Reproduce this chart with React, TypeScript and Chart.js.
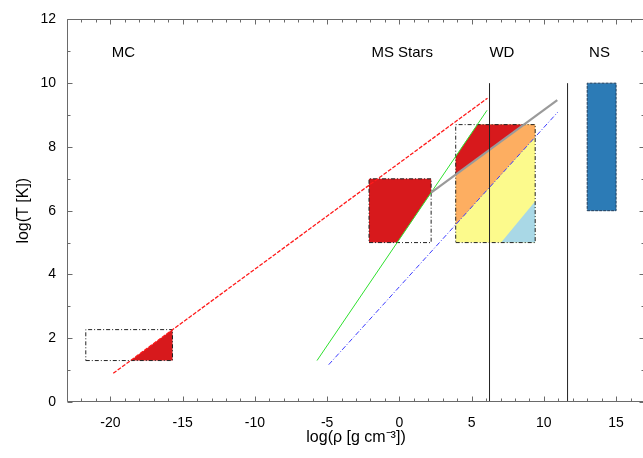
import React, { useEffect, useRef } from "react";
import { Chart, registerables } from "chart.js";

Chart.register(...registerables);

// ---- axes ----
const X_MIN = -23;
const X_MAX = 17;
const Y_MIN = 0;
const Y_MAX = 12;
const X_STEP = 5;
const Y_STEP = 2;
const xTickValues = [-20, -15, -10, -5, 0, 5, 10, 15];
const yTickValues = [0, 2, 4, 6, 8, 10, 12];
const X_TITLE = "log(ρ [g cm⁻³])";
const Y_TITLE = "log(T [K])";

// ---- region labels ----
const regionLabels = ["MC", "MS Stars", "WD", "NS"];
const regionLabelX = [-19.1, 0.2, 7.1, 13.85];
const regionLabelY = [10.95, 10.95, 10.95, 10.95];

// ---- lines ----
const redLineX = [-19.8, 6.1];
const redLineY = [0.9, 9.53];
const greenLineX = [-5.7, 6.07];
const greenLineY = [1.3, 9.15];
const blueLineX = [-4.89, 10.96];
const blueLineY = [1.17, 9.09];
const grayLineX = [2.2, 10.93];
const grayLineY = [6.57, 9.47];
const wdLimitX = [6.24, 6.24];
const wdLimitY = [0, 10];
const nsLimitX = [11.64, 11.64];
const nsLimitY = [0, 10];

// ---- boxes (outlines) ----
const mcBoxX = [-21.7, -15.7, -15.7, -21.7, -21.7];
const mcBoxY = [1.3, 1.3, 2.27, 2.27, 1.3];
const msBoxX = [-2.1, 2.2, 2.2, -2.1, -2.1];
const msBoxY = [5, 5, 7, 7, 5];
const wdBoxX = [3.9, 9.4, 9.4, 3.9, 3.9];
const wdBoxY = [5, 5, 8.7, 8.7, 5];
const nsBoxX = [13, 15, 15, 13, 13];
const nsBoxY = [6, 6, 10, 10, 6];

// ---- filled regions ----
const mcRedX = [-18.6, -15.7, -15.7, -18.6];
const mcRedY = [1.3, 1.3, 2.27, 1.3];
const msRedX = [-2.1, -0.15, 2.2, 2.2, -2.1, -2.1];
const msRedY = [5, 5, 6.57, 7, 7, 5];
const wdYellowX = [3.9, 9.4, 9.4, 5.4, 3.9, 3.9];
const wdYellowY = [5, 5, 8.7, 8.7, 7.7, 5];
const wdLightBlueX = [7.04, 9.4, 9.4, 7.04];
const wdLightBlueY = [5, 5, 6.3, 5];
const wdOrangeX = [3.9, 3.9, 8.59, 9.4, 9.4, 3.9];
const wdOrangeY = [5.56, 7.14, 8.7, 8.7, 8.31, 5.56];
const wdRedX = [3.9, 3.9, 5.4, 8.59, 3.9];
const wdRedY = [7.14, 7.7, 8.7, 8.7, 7.14];
const nsFillX = [13, 15, 15, 13, 13];
const nsFillY = [6, 6, 10, 10, 6];

const FONT = "'Liberation Sans', Arial, Helvetica, sans-serif";

const pts = (xs: number[], ys: number[]) => xs.map((x, i) => ({ x, y: ys[i] }));

const fillSet = (xs: number[], ys: number[], color: string) => ({
  type: "scatter" as const,
  data: pts(xs, ys),
  showLine: true,
  fill: "shape",
  backgroundColor: color,
  borderColor: "rgba(0,0,0,0)",
  borderWidth: 0,
  pointRadius: 0,
});

const lineSet = (
  xs: number[],
  ys: number[],
  color: string,
  width: number,
  dash: number[] = []
) => ({
  type: "scatter" as const,
  data: pts(xs, ys),
  showLine: true,
  fill: false,
  borderColor: color,
  backgroundColor: color,
  borderWidth: width,
  borderDash: dash,
  pointRadius: 0,
});

const framePlugin = {
  id: "frameTicks",
  afterDatasetsDraw(chart: any) {
    const { ctx, chartArea } = chart;
    const { left, right, top, bottom } = chartArea;
    const xs = chart.scales.x;
    const ys = chart.scales.y;
    ctx.save();
    ctx.strokeStyle = "#6a6a6a";
    ctx.lineWidth = 1;
    const L = Math.round(left) + 0.5;
    const R = Math.round(right) - 0.5;
    const T = Math.round(top) + 0.5;
    const B = Math.round(bottom) - 0.5;
    ctx.beginPath();
    ctx.moveTo(L, T);
    ctx.lineTo(R, T);
    ctx.lineTo(R, B);
    ctx.lineTo(L, B);
    ctx.closePath();
    ctx.stroke();
    ctx.beginPath();
    for (let v = X_MIN; v <= X_MAX; v++) {
      const len = v % X_STEP === 0 ? 5 : 3;
      const px = Math.round(xs.getPixelForValue(v)) + 0.5;
      ctx.moveTo(px, B);
      ctx.lineTo(px, B - len);
      ctx.moveTo(px, T);
      ctx.lineTo(px, T + len);
    }
    for (let v = Y_MIN; v <= Y_MAX; v++) {
      const len = v % Y_STEP === 0 ? 5 : 3;
      const py = Math.round(ys.getPixelForValue(v)) + 0.5;
      ctx.moveTo(L, py);
      ctx.lineTo(L + len, py);
      ctx.moveTo(R, py);
      ctx.lineTo(R - len, py);
    }
    ctx.stroke();

    ctx.fillStyle = "#000";
    ctx.font = `15px ${FONT}`;
    ctx.textAlign = "center";
    ctx.textBaseline = "middle";
    regionLabels.forEach((t, i) => {
      ctx.fillText(t, xs.getPixelForValue(regionLabelX[i]), ys.getPixelForValue(regionLabelY[i]));
    });
    ctx.restore();
  },
};

export default function App() {
  const ref = useRef<HTMLCanvasElement | null>(null);

  useEffect(() => {
    document.body.style.margin = "0";
    const canvas = ref.current;
    if (!canvas) return;

    // bottom -> top
    const layers: any[] = [
      fillSet(mcRedX, mcRedY, "#d7191c"),
      fillSet(msRedX, msRedY, "#d7191c"),
      fillSet(wdYellowX, wdYellowY, "#fcfa8c"),
      fillSet(wdLightBlueX, wdLightBlueY, "#a9d8e6"),
      fillSet(wdOrangeX, wdOrangeY, "#fdae61"),
      fillSet(wdRedX, wdRedY, "#d7191c"),
      fillSet(nsFillX, nsFillY, "#2c7bb6"),
      lineSet(mcBoxX, mcBoxY, "#222", 1, [4, 2, 1, 2]),
      lineSet(msBoxX, msBoxY, "#222", 1, [4, 2, 1, 2]),
      lineSet(wdBoxX, wdBoxY, "#222", 1, [4, 2, 1, 2]),
      lineSet(nsBoxX, nsBoxY, "#1d3c5a", 1, [3, 1]),
      lineSet(redLineX, redLineY, "#ff1a1a", 1.3, [4, 1.5]),
      lineSet(greenLineX, greenLineY, "#2ee02e", 1, []),
      lineSet(grayLineX, grayLineY, "#9a9a9a", 2.2, []),
      lineSet(blueLineX, blueLineY, "#3a3aff", 1, [5, 2, 1, 2]),
      lineSet(wdLimitX, wdLimitY, "#222", 1, []),
      lineSet(nsLimitX, nsLimitY, "#222", 1, []),
    ];
    const n = layers.length;
    layers.forEach((d, i) => (d.order = n - i));

    const tickFont = { family: FONT, size: 14 };
    const titleFont = { family: FONT, size: 16 };

    const chart = new Chart(canvas, {
      type: "scatter",
      data: { datasets: layers },
      options: {
        animation: false,
        responsive: false,
        devicePixelRatio: 1,
        events: [],
        layout: { padding: { top: 15, right: 5, left: 0, bottom: 0 } },
        plugins: {
          legend: { display: false },
          tooltip: { enabled: false },
        },
        scales: {
          x: {
            type: "linear",
            min: X_MIN,
            max: X_MAX,
            grid: { display: false, drawTicks: false },
            border: { display: false },
            ticks: {
              font: tickFont,
              color: "#000",
              padding: 13,
              maxRotation: 0,
            },
            afterBuildTicks: (s: any) => {
              s.ticks = xTickValues.map((v) => ({ value: v }));
            },
            title: {
              display: true,
              text: X_TITLE,
              font: titleFont,
              color: "#000",
              padding: { top: 0, bottom: 11 },
            },
            afterFit: (s: any) => {
              s.height = 56;
            },
          },
          y: {
            type: "linear",
            min: Y_MIN,
            max: Y_MAX,
            grid: { display: false, drawTicks: false },
            border: { display: false },
            ticks: {
              font: tickFont,
              color: "#000",
              padding: 11,
            },
            afterBuildTicks: (s: any) => {
              s.ticks = yTickValues.map((v) => ({ value: v }));
            },
            title: {
              display: true,
              text: Y_TITLE,
              font: titleFont,
              color: "#000",
              padding: { top: 14, bottom: 0 },
            },
            afterFit: (s: any) => {
              s.width = 67;
            },
          },
        },
      } as any,
      plugins: [framePlugin],
    });
    return () => chart.destroy();
  }, []);

  return (
    <div style={{ width: 643, height: 458, overflow: "hidden", position: "relative", background: "#fff" }}>
      <canvas ref={ref} width={650} height={458} style={{ display: "block", width: 650, height: 458 }} />
    </div>
  );
}
